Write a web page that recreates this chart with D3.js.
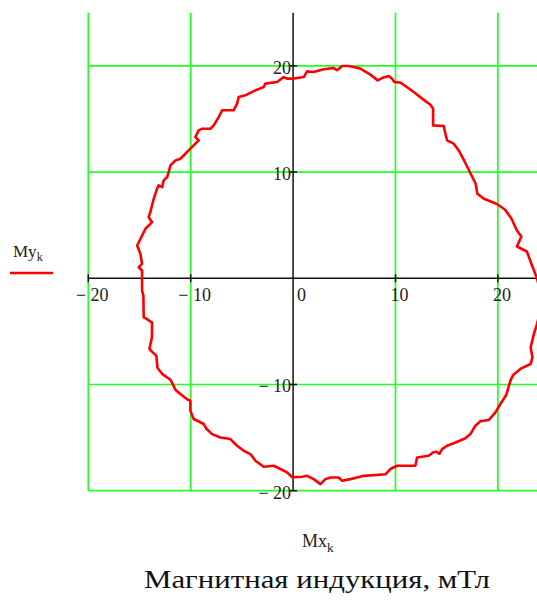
<!DOCTYPE html>
<html>
<head>
<meta charset="utf-8">
<script src="https://cdn.jsdelivr.net/npm/d3@7"></script>
<style>
  body{margin:0;background:#fff;}
  text{font-family:"Liberation Serif","Times New Roman",serif;}
</style>
</head>
<body>
<div id="container"></div>
<script>
let w = 537;
let h = 600;

// loop, in mT
let Mx = [-0.07,1.04,1.37,2.01,2.99,3.96,4.30,4.79,5.43,6.57,7.55,8.26,8.69,9.34,9.67,9.89,10.48,10.97,11.78,12.60,
  13.41,13.67,13.67,14.71,14.87,15.04,15.68,16.17,16.70,17.34,17.83,18.00,18.63,19.85,20.68,21.32,21.86,22.29,21.86,22.83,
  23.27,23.81,24.10,24.20,24.05,23.83,23.52,23.20,23.37,23.20,22.23,21.51,21.22,20.83,20.24,19.76,19.10,18.29,17.80,17.31,
  16.83,15.85,15.04,14.55,14.29,13.99,13.70,13.24,12.11,11.94,10.16,9.50,9.04,6.91,6.25,5.60,4.79,4.45,3.64,3.15,
  2.67,2.01,1.37,0.88,-0.07,-0.59,-1.24,-1.89,-2.87,-3.68,-4.17,-4.82,-5.47,-6.12,-7.10,-7.91,-8.47,-8.73,-9.25,-9.71,
  -10.03,-10.03,-10.35,-11.01,-11.49,-11.98,-12.76,-13.25,-13.35,-13.84,-14.03,-13.79,-13.77,-14.42,-14.59,-14.62,-14.75,-14.75,-15.08,-14.75,
  -14.91,-15.23,-14.75,-14.42,-13.77,-14.10,-13.94,-13.61,-13.28,-13.13,-12.79,-12.64,-12.30,-12.15,-11.98,-11.49,-11.01,-10.52,-10.03,-9.54,
  -9.22,-9.54,-9.22,-8.89,-8.08,-7.75,-7.27,-6.93,-5.80,-5.47,-5.31,-4.66,-3.68,-2.87,-2.71,-1.56,-0.92,-0.59];
let My = [18.79,18.94,19.48,19.42,19.67,19.79,19.58,19.98,19.98,19.74,19.17,18.63,18.85,19.04,18.79,18.47,18.42,18.10,17.53,16.91,
  16.34,15.97,14.39,14.33,13.61,12.98,12.67,12.04,11.09,9.84,8.90,7.95,7.48,7.01,6.47,5.63,4.50,3.93,2.99,2.52,
  1.36,0.02,-1.16,-2.38,-3.42,-4.27,-5.24,-6.50,-7.45,-8.07,-8.51,-9.08,-9.64,-10.96,-11.84,-12.63,-13.35,-13.46,-13.88,-14.67,
  -15.06,-15.46,-15.77,-16.08,-16.52,-16.33,-16.38,-16.71,-16.87,-17.65,-17.65,-17.96,-18.45,-18.60,-18.76,-18.91,-19.07,-18.76,-18.76,-18.91,
  -19.38,-18.91,-18.60,-18.69,-18.74,-18.28,-17.96,-17.65,-17.75,-17.18,-16.55,-16.24,-15.77,-15.14,-14.99,-14.67,-14.17,-13.72,-13.46,-13.25,
  -12.47,-11.53,-11.39,-10.90,-10.49,-9.55,-9.03,-8.42,-7.29,-6.86,-6.63,-5.59,-4.18,-3.75,-3.68,-1.63,-1.16,0.73,1.04,1.36,
  2.30,3.08,4.02,4.66,5.28,5.75,6.22,7.48,8.43,8.74,8.58,9.21,9.52,9.99,10.62,11.09,11.25,11.72,12.20,12.67,
  12.98,13.29,13.92,14.08,14.08,14.39,15.17,15.81,15.81,16.44,17.06,17.22,17.69,18.00,18.32,18.47,18.94,18.79];

let xTicks = [-20,-10,0,10,20];
let yTicks = [-20,-10,10,20];
let xGrid = [-20,-10,10,20];
let yGrid = [-20,-10,10,20];

let viz = d3.select("#container").append("svg")
    .attr("width", w)
    .attr("height", h)
;

let xScale = d3.scaleLinear().domain([-20,25]).range([88.3, 549.1]);
let yScale = d3.scaleLinear().domain([-20,25]).range([490.7, 12.7]);

function lbl(v){
  if(v<0) return "\u2212 " + Math.abs(v);
  return String(v);
}

// green grid
viz.selectAll(".vgrid").data(xGrid).enter()
    .append("line")
    .attr("class","vgrid")
    .attr("x1", d=>xScale(d))
    .attr("x2", d=>xScale(d))
    .attr("y1", yScale(25))
    .attr("y2", yScale(-20))
    .attr("stroke","#22ff22")
    .attr("stroke-width",1.7)
;
viz.selectAll(".hgrid").data(yGrid).enter()
    .append("line")
    .attr("class","hgrid")
    .attr("x1", xScale(-20))
    .attr("x2", xScale(25))
    .attr("y1", d=>yScale(d))
    .attr("y2", d=>yScale(d))
    .attr("stroke","#22ff22")
    .attr("stroke-width",1.7)
;

// axes through the origin
viz.append("line")
    .attr("x1", xScale(-20)).attr("x2", xScale(25))
    .attr("y1", yScale(0)).attr("y2", yScale(0))
    .attr("stroke","#111").attr("stroke-width",1.5);
viz.append("line")
    .attr("x1", xScale(0)).attr("x2", xScale(0))
    .attr("y1", yScale(25)).attr("y2", yScale(-20))
    .attr("stroke","#111").attr("stroke-width",1.5);

viz.selectAll(".xtick").data(xTicks.filter(d=>d!=0)).enter()
    .append("line")
    .attr("class","xtick")
    .attr("x1", d=>xScale(d)).attr("x2", d=>xScale(d))
    .attr("y1", yScale(0)-4).attr("y2", yScale(0)+4)
    .attr("stroke","#111").attr("stroke-width",1.5);
viz.selectAll(".ytick").data(yTicks).enter()
    .append("line")
    .attr("class","ytick")
    .attr("x1", xScale(0)-3).attr("x2", xScale(0)+4)
    .attr("y1", d=>yScale(d)).attr("y2", d=>yScale(d))
    .attr("stroke","#111").attr("stroke-width",1.5);

viz.selectAll(".xlab").data(xTicks).enter()
    .append("text")
    .attr("class","xlab")
    .text(d=>lbl(d))
    .attr("x", d=>xScale(d)+4)
    .attr("y", yScale(0)+23)
    .attr("text-anchor", d=> d==0 ? "start" : "middle")
    .attr("font-size",18)
    .attr("fill","#222")
;
viz.selectAll(".ylab").data(yTicks).enter()
    .append("text")
    .attr("class","ylab")
    .text(d=>lbl(d))
    .attr("x", xScale(0)-2)
    .attr("y", d=>yScale(d)+8)
    .attr("text-anchor","end")
    .attr("font-size",18)
    .attr("fill","#222")
;

// the loop
let pts = Mx.map((d,i)=>[d, My[i]]);
pts.push(pts[0]);
let lineMaker = d3.line()
    .x(d=>xScale(d[0]))
    .y(d=>yScale(d[1]));
viz.append("path")
    .datum(pts)
    .attr("d", lineMaker)
    .attr("fill","none")
    .attr("stroke","#ff0000")
    .attr("stroke-width",2.6)
    .attr("stroke-linejoin","round")
;

// legend
let leg = viz.append("text")
    .attr("x",13)
    .attr("y",257)
    .attr("font-size",17)
    .attr("fill","#222");
leg.append("tspan").text("My");
leg.append("tspan").text("k").attr("font-size",12).attr("dy",4);
viz.append("line")
    .attr("x1",10).attr("x2",53)
    .attr("y1",273).attr("y2",273)
    .attr("stroke","#ff0000").attr("stroke-width",2.6);

// x label + title
let xl = viz.append("text")
    .attr("x",302)
    .attr("y",547)
    .attr("font-size",18)
    .attr("fill","#222");
xl.append("tspan").text("Mx");
xl.append("tspan").text("k").attr("font-size",13).attr("dy",5);

viz.append("text")
    .text("Магнитная индукция, мТл")
    .attr("x",144)
    .attr("y",588)
    .attr("font-size",26)
    .attr("textLength",346)
    .attr("lengthAdjust","spacingAndGlyphs")
    .attr("fill","#111")
;
</script>
</body>
</html>
